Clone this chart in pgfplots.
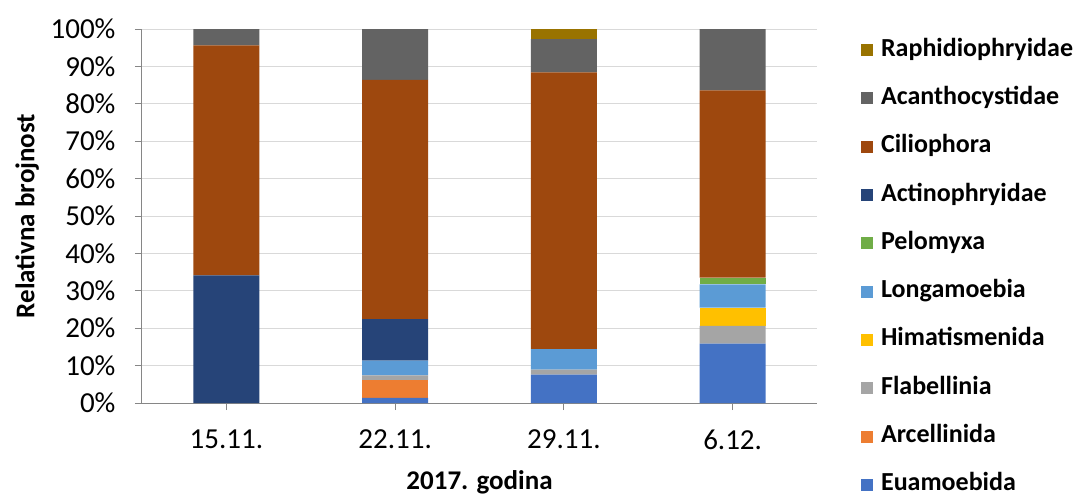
\documentclass[border=0pt]{standalone}
\usepackage{pgfplots}
\pgfplotsset{compat=1.18}
\usepackage{fontspec}
\setmainfont{Carlito}

\definecolor{cEua}{HTML}{4472C4}
\definecolor{cArc}{HTML}{ED7D31}
\definecolor{cFla}{HTML}{A5A5A5}
\definecolor{cHim}{HTML}{FFC000}
\definecolor{cLon}{HTML}{5B9BD5}
\definecolor{cPel}{HTML}{70AD47}
\definecolor{cAct}{HTML}{264478}
\definecolor{cCil}{HTML}{9E480E}
\definecolor{cAca}{HTML}{636363}
\definecolor{cRap}{HTML}{997300}
\definecolor{gridc}{HTML}{D9D9D9}
\definecolor{axc}{HTML}{868686}

\begin{document}
\begin{tikzpicture}
 \begin{axis}[
   at={(0,0)}, anchor=south west,
   width=675pt, height=374pt, scale only axis,
   ybar stacked, bar width=0.39,
   xmin=-0.5, xmax=3.5, ymin=0, ymax=100,
   xtick={0,1,2,3},
   xticklabels={15.11., 22.11., 29.11., 6.12.},
   ytick={0,10,...,100},
   yticklabel={\pgfmathprintnumber{\tick}\%},
   /pgf/number format/assume math mode=true,
   axis x line*=bottom, axis y line*=left,
   axis line style={-, draw=axc, line width=1pt},
   tick align=outside, major tick length=7pt,
   xtick style={draw=axc, line width=1pt},
   ytick style={draw=axc, line width=1pt},
   ymajorgrids, grid style={gridc, line width=1pt},
   tick label style={font=\fontsize{29}{29}\selectfont, text=black},
   xticklabel style={yshift=-16pt},
   yticklabel style={xshift=-16pt},
   ylabel={Relativna brojnost},
   xlabel={2017. godina},
   label style={font=\bfseries\fontsize{27}{27}\selectfont},
   ylabel style={at={(axis description cs:-0.170,0.5)}, anchor=center},
   xlabel style={at={(axis description cs:0.5,-0.232)}, anchor=base},
   reverse legend,
   legend cell align=left,
   legend image code/.code={\fill[#1] (0pt,-6pt) rectangle (12pt,6pt);},
   legend style={draw=none, fill=none, at={(rel axis cs:1.065,0.976)}, anchor=north west,
     font=\bfseries\fontsize{26}{26}\selectfont, row sep=24.3pt, column sep=8pt,
     inner sep=0pt, nodes={inner sep=0pt, text height=18pt, text depth=6pt}},
  ]
  \addplot+[fill=cEua, draw=none] coordinates {(0,0) (1,1.4) (2,7.6) (3,15.9)};
  \addplot+[fill=cArc, draw=none] coordinates {(0,0) (1,4.8) (2,0) (3,0)};
  \addplot+[fill=cFla, draw=none] coordinates {(0,0) (1,1.2) (2,1.3) (3,4.7)};
  \addplot+[fill=cHim, draw=none] coordinates {(0,0) (1,0) (2,0) (3,4.9)};
  \addplot+[fill=cLon, draw=none] coordinates {(0,0) (1,3.9) (2,5.5) (3,6.2)};
  \addplot+[fill=cPel, draw=none] coordinates {(0,0) (1,0) (2,0) (3,1.8)};
  \addplot+[fill=cAct, draw=none] coordinates {(0,34.1) (1,11.1) (2,0) (3,0)};
  \addplot+[fill=cCil, draw=none] coordinates {(0,61.5) (1,64.0) (2,74.0) (3,50.1)};
  \addplot+[fill=cAca, draw=none] coordinates {(0,4.4) (1,13.6) (2,8.9) (3,16.4)};
  \addplot+[fill=cRap, draw=none] coordinates {(0,0) (1,0) (2,2.7) (3,0)};
  \legend{Euamoebida, Arcellinida, Flabellinia, Himatismenida, Longamoebia, Pelomyxa, Actinophryidae, Ciliophora, Acanthocystidae, Raphidiophryidae}
 \end{axis}
 \pgfresetboundingbox
 \useasboundingbox (-142pt,-96pt) rectangle (937pt,403pt);
\end{tikzpicture}
\end{document}
